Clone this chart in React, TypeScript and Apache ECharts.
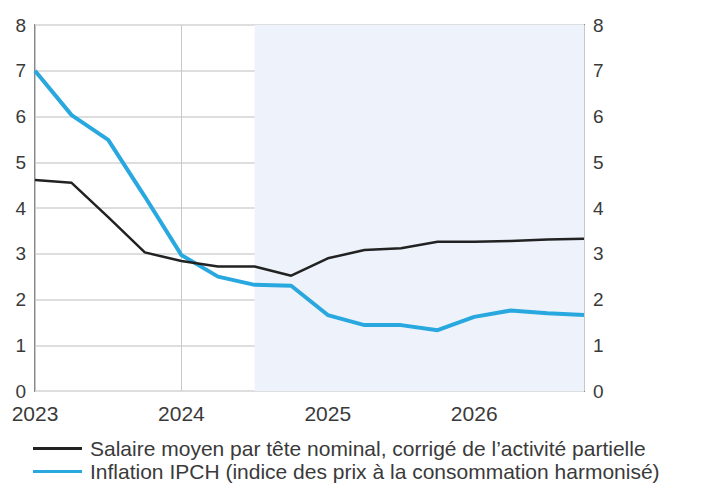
import React, { useEffect, useRef } from "react";
import * as echarts from "echarts";

const quarters = [0, 1, 2, 3, 4, 5, 6, 7, 8, 9, 10, 11, 12, 13, 14, 15];
const yearLabels: Record<number, string> = { 0: "2023", 4: "2024", 8: "2025", 12: "2026" };
const salaire = [4.61, 4.55, 3.8, 3.03, 2.84, 2.72, 2.72, 2.52, 2.9, 3.08, 3.12, 3.26, 3.26, 3.28, 3.31, 3.33];
const inflation = [7.0, 6.03, 5.49, 4.25, 2.97, 2.5, 2.32, 2.3, 1.66, 1.44, 1.44, 1.33, 1.62, 1.76, 1.7, 1.66];
const projectionStart = 6;
const projectionEnd = 15;
const seriesNames = [
  "Salaire moyen par tête nominal, corrigé de l\u2019activité partielle",
  "Inflation IPCH (indice des prix à la consommation harmonisé)",
];

export default function App() {
  const ref = useRef<HTMLDivElement>(null);
  useEffect(() => {
    document.body.style.margin = "0";
    if (!ref.current) return;
    const chart = echarts.init(ref.current, undefined, { renderer: "svg" });
    const font = "'Liberation Sans', Arial, sans-serif";
    const yAxisCommon = {
      type: "value" as const,
      min: 0,
      max: 8,
      interval: 1,
      axisLine: { show: false },
      axisTick: { show: false },
      axisLabel: { fontSize: 19, color: "#3a3a3a", fontFamily: font, margin: 9 },
    };
    const legendCommon = {
      orient: "horizontal" as const,
      left: 33,
      itemWidth: 49,
      itemHeight: 3,
      icon: "rect",
      padding: 0,
      textStyle: { fontSize: 21, color: "#3a3a3a", fontFamily: font, padding: [0, 0, 0, 3] },
    };
    chart.setOption({
      animation: false,
      grid: {
        left: 35,
        right: 121,
        top: 25,
        bottom: 97,
        show: true,
        borderColor: "#888",
        borderWidth: 2,
        backgroundColor: "transparent",
      },
      xAxis: {
        type: "value",
        min: 0,
        max: 15,
        interval: 4,
        axisLine: { show: false },
        axisTick: { show: false },
        splitLine: { show: true, lineStyle: { color: "#c4c8cf", width: 1 } },
        axisLabel: {
          fontSize: 21,
          color: "#3a3a3a",
          fontFamily: font,
          margin: 12,
          showMaxLabel: false,
          formatter: (v: number) => yearLabels[v] ?? "",
        },
      },
      yAxis: [
        {
          ...yAxisCommon,
          position: "left",
          splitLine: { show: true, lineStyle: { color: "#dedede", width: 2 } },
        },
        {
          ...yAxisCommon,
          position: "right",
          splitLine: { show: false },
        },
      ],
      legend: [
        { ...legendCommon, top: 438, data: [seriesNames[0]] },
        { ...legendCommon, top: 461, data: [seriesNames[1]] },
      ],
      series: [
        {
          name: seriesNames[0],
          type: "line",
          data: quarters.map((q, i) => [q, salaire[i]]),
          symbol: "none",
          lineStyle: { color: "#222222", width: 2.5 },
          itemStyle: { color: "#222222" },
          z: 3,
          markArea: {
            silent: true,
            itemStyle: { color: "#eef3fb" },
            data: [[{ xAxis: projectionStart }, { xAxis: projectionEnd }]],
          },
        },
        {
          name: seriesNames[1],
          type: "line",
          data: quarters.map((q, i) => [q, inflation[i]]),
          symbol: "none",
          lineStyle: { color: "#29a8e0", width: 4 },
          itemStyle: { color: "#29a8e0" },
          z: 2,
        },
      ],
    });
    return () => chart.dispose();
  }, []);
  return <div ref={ref} style={{ width: 705, height: 488 }} />;
}
